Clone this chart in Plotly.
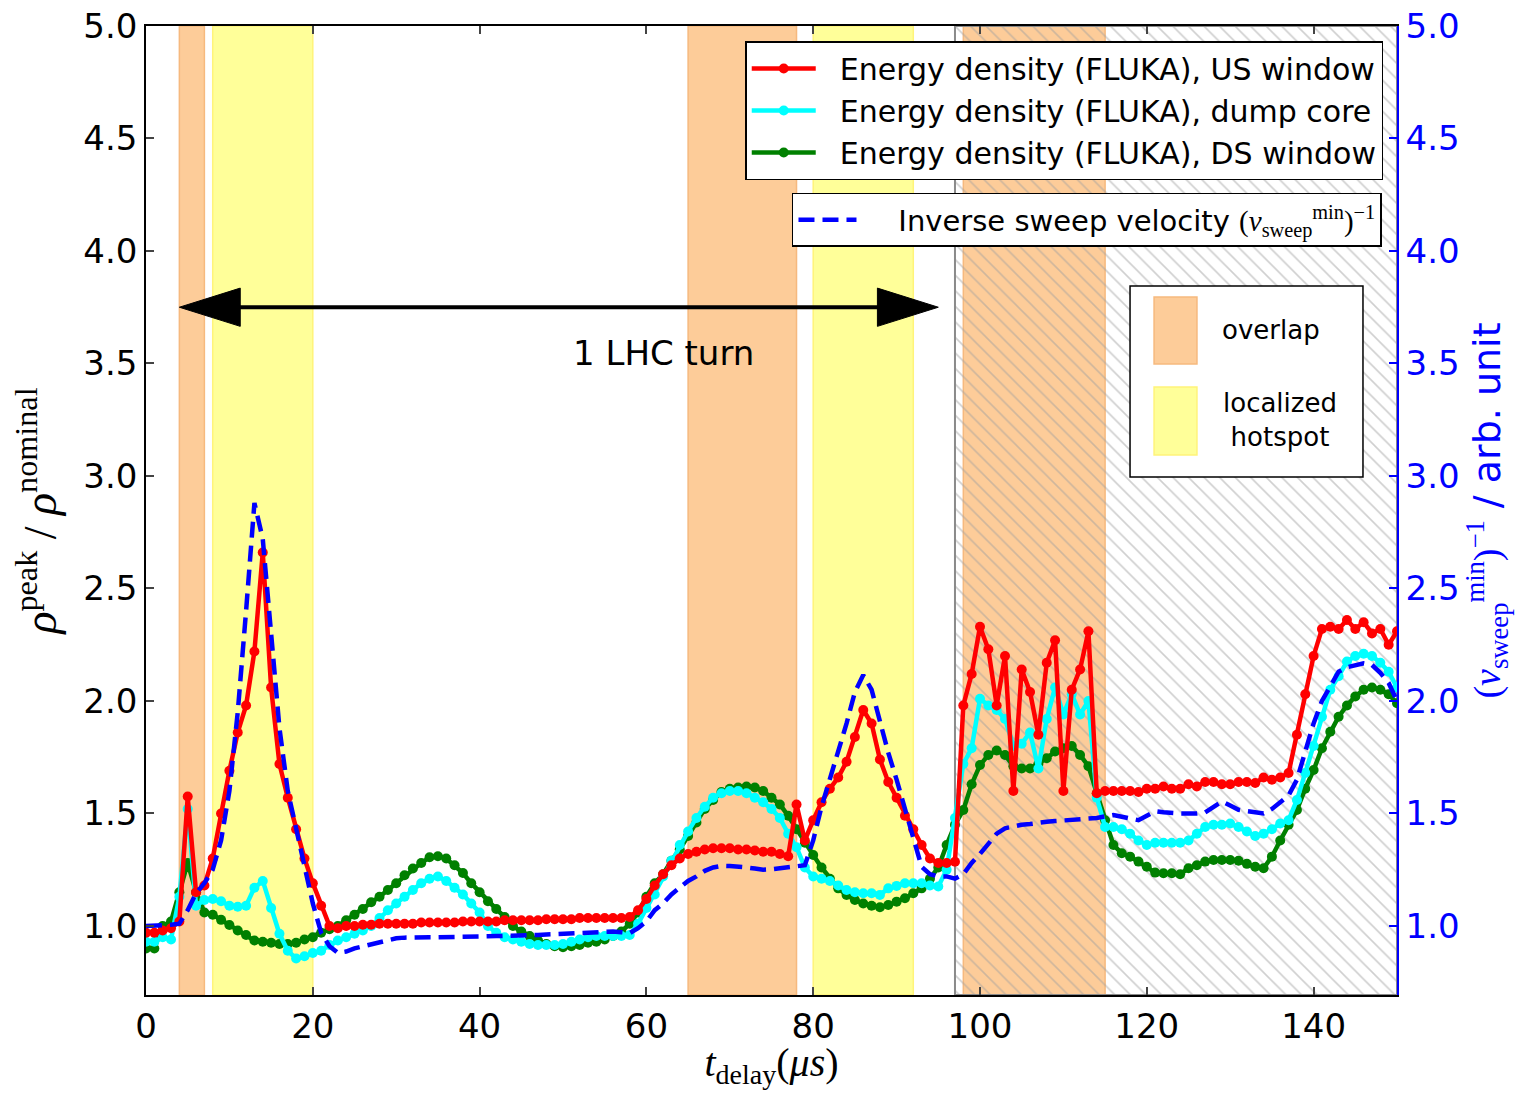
import plotly.graph_objects as go

# ---------------- data ----------------
t = list(range(0, 151))

us_window = [
    0.97, 0.97, 0.98, 0.99, 1.02, 1.575, 1.15, 1.18, 1.30, 1.50,
    1.69, 1.86, 1.98, 2.22, 2.66, 2.06, 1.72, 1.57, 1.43, 1.30,
    1.19, 1.09, 1.00, 0.99, 1.00, 1.00, 1.005, 1.005, 1.01, 1.01,
    1.01, 1.01, 1.01, 1.015, 1.015, 1.015, 1.015, 1.015, 1.02, 1.02,
    1.02, 1.02, 1.02, 1.025, 1.025, 1.025, 1.025, 1.025, 1.03, 1.03,
    1.03, 1.03, 1.035, 1.035, 1.035, 1.035, 1.035, 1.035, 1.04, 1.07,
    1.12, 1.18, 1.23, 1.27, 1.30, 1.32, 1.33, 1.34, 1.345, 1.345,
    1.345, 1.34, 1.34, 1.335, 1.33, 1.33, 1.32, 1.31, 1.54, 1.38,
    1.47, 1.55, 1.61, 1.66, 1.73, 1.84, 1.96, 1.90, 1.74, 1.64,
    1.57, 1.49, 1.43, 1.36, 1.30, 1.28, 1.28, 1.285, 1.98, 2.12,
    2.33, 2.23, 1.98, 2.20, 1.60, 2.14, 2.04, 1.85, 2.17, 2.27,
    1.60, 2.05, 2.14, 2.31, 1.59, 1.60, 1.60, 1.60, 1.60, 1.595,
    1.61, 1.61, 1.62, 1.61, 1.61, 1.63, 1.62, 1.64, 1.64, 1.63,
    1.63, 1.64, 1.64, 1.635, 1.66, 1.65, 1.66, 1.68, 1.85, 2.03,
    2.20, 2.32, 2.33, 2.32, 2.36, 2.32, 2.35, 2.30, 2.32, 2.25,
    2.31,
]

dump_core = [
    0.93, 0.93, 0.95, 0.94, 1.13, 1.52, 1.09, 1.115, 1.12, 1.11,
    1.09, 1.085, 1.09, 1.17, 1.20, 1.08, 0.965, 0.89, 0.855, 0.865,
    0.88, 0.89, 0.915, 0.935, 0.95, 0.965, 0.98, 1.00, 1.035, 1.07,
    1.10, 1.13, 1.16, 1.19, 1.21, 1.22, 1.20, 1.17, 1.14, 1.10,
    1.06, 1.00, 0.97, 0.95, 0.94, 0.93, 0.92, 0.915, 0.915, 0.915,
    0.92, 0.93, 0.94, 0.95, 0.955, 0.955, 0.955, 0.955, 0.96, 1.01,
    1.08, 1.14, 1.22, 1.29, 1.36, 1.42, 1.48, 1.53, 1.57, 1.59,
    1.60, 1.60, 1.59, 1.57, 1.55, 1.52, 1.48, 1.41, 1.35, 1.26,
    1.22, 1.21, 1.20, 1.18, 1.16, 1.15, 1.145, 1.145, 1.138, 1.167,
    1.178, 1.19, 1.19, 1.19, 1.18, 1.175, 1.25, 1.48, 1.72, 1.79,
    2.01, 1.98, 1.96, 1.92, 1.80, 1.81, 1.86, 1.70, 1.92, 2.06,
    1.94, 2.03, 1.94, 2.00, 1.57, 1.44, 1.44, 1.43, 1.41, 1.38,
    1.36, 1.37, 1.37, 1.37, 1.37, 1.38, 1.41, 1.44, 1.45, 1.45,
    1.455, 1.44, 1.42, 1.40, 1.41, 1.43, 1.455, 1.47, 1.56, 1.68,
    1.80, 1.93, 2.05, 2.11, 2.175, 2.20, 2.21, 2.20, 2.17, 2.13,
    2.06,
]

ds_window = [
    0.90, 0.90, 1.00, 1.02, 1.15, 1.28, 1.15, 1.06, 1.05, 1.027,
    1.004, 0.98, 0.96, 0.935, 0.93, 0.925, 0.92, 0.92, 0.925, 0.94,
    0.95, 0.97, 0.985, 1.00, 1.025, 1.05, 1.075, 1.105, 1.13, 1.16,
    1.19, 1.225, 1.255, 1.28, 1.305, 1.31, 1.30, 1.27, 1.235, 1.19,
    1.15, 1.11, 1.075, 1.04, 1.00, 0.975, 0.955, 0.935, 0.92, 0.91,
    0.905, 0.91, 0.915, 0.925, 0.93, 0.94, 0.955, 0.975, 1.01, 1.06,
    1.13, 1.19, 1.23, 1.29, 1.34, 1.40, 1.46, 1.52, 1.56, 1.595,
    1.61, 1.615, 1.62, 1.615, 1.60, 1.57, 1.54, 1.49, 1.43, 1.37,
    1.315, 1.26, 1.21, 1.167, 1.138, 1.115, 1.10, 1.09, 1.083, 1.093,
    1.108, 1.123, 1.145, 1.167, 1.21, 1.26, 1.36, 1.45, 1.515, 1.63,
    1.715, 1.76, 1.78, 1.76, 1.71, 1.70, 1.70, 1.72, 1.745, 1.775,
    1.79, 1.80, 1.76, 1.71, 1.59, 1.47, 1.36, 1.323, 1.308, 1.286,
    1.263, 1.237, 1.234, 1.234, 1.23, 1.256, 1.27, 1.286, 1.293, 1.293,
    1.293, 1.29, 1.276, 1.263, 1.256, 1.308, 1.38, 1.45, 1.515, 1.61,
    1.693, 1.79, 1.863, 1.93, 1.98, 2.02, 2.05, 2.06, 2.05, 2.03,
    1.99,
]

inv_sweep = [
    1.00, 1.00, 1.00, 1.005, 1.01, 1.07, 1.145, 1.19, 1.25, 1.38,
    1.60, 1.95, 2.40, 2.88, 2.72, 2.27, 1.88, 1.60, 1.43, 1.27,
    1.10, 0.97, 0.91, 0.88, 0.886, 0.90, 0.91, 0.92, 0.93, 0.94,
    0.945, 0.948, 0.95, 0.95, 0.95, 0.95, 0.95, 0.952, 0.952, 0.953,
    0.953, 0.954, 0.955, 0.955, 0.956, 0.958, 0.96, 0.96, 0.962, 0.964,
    0.966, 0.968, 0.97, 0.972, 0.975, 0.975, 0.975, 0.972, 0.968, 0.99,
    1.02, 1.07, 1.10, 1.14, 1.17, 1.20, 1.22, 1.245, 1.26, 1.267,
    1.266, 1.264, 1.26, 1.255, 1.25, 1.252, 1.258, 1.262, 1.265, 1.27,
    1.38, 1.53, 1.65, 1.78, 1.90, 2.04, 2.115, 2.05, 1.91, 1.77,
    1.65, 1.52, 1.38, 1.263, 1.23, 1.22, 1.22, 1.21, 1.23, 1.28,
    1.32, 1.367, 1.41, 1.434, 1.443, 1.45, 1.453, 1.46, 1.463, 1.466,
    1.468, 1.47, 1.473, 1.477, 1.48, 1.487, 1.493, 1.485, 1.475, 1.47,
    1.49, 1.51, 1.505, 1.50, 1.50, 1.50, 1.50, 1.505, 1.53, 1.553,
    1.535, 1.516, 1.51, 1.505, 1.50, 1.52, 1.55, 1.58, 1.65, 1.77,
    1.90, 2.00, 2.07, 2.13, 2.15, 2.16, 2.167, 2.16, 2.125, 2.08,
    2.00,
]

overlap_spans = [(4, 7), (65, 78), (98, 115)]
hotspot_spans = [(8, 20), (80, 92)]
hatched_span = (97, 150)
lhc_turn = (4, 95, 3.75)  # arrow start, end, height

x_ticks = [0, 20, 40, 60, 80, 100, 120, 140]
y_ticks = [1.0, 1.5, 2.0, 2.5, 3.0, 3.5, 4.0, 4.5, 5.0]
y_range = [0.693, 5.0]

# ---------------- styles ----------------
ORANGE = "#FDCC99"
ORANGE_EDGE = "#F6B97E"
YELLOW = "#FFFF99"
YELLOW_EDGE = "#FFF47A"
SANS = "DejaVu Sans"
SERIF = "Liberation Serif"
GAP = "\u00a0\u00a0"

fig = go.Figure()

shapes = []
for a, b in overlap_spans:
    shapes.append(dict(type="rect", xref="x", yref="paper", x0=a, x1=b, y0=0, y1=1,
                       fillcolor=ORANGE, line=dict(color=ORANGE_EDGE, width=1.5), layer="below"))
for a, b in hotspot_spans:
    shapes.append(dict(type="rect", xref="x", yref="paper", x0=a, x1=b, y0=0, y1=1,
                       fillcolor=YELLOW, line=dict(color=YELLOW_EDGE, width=1.5), layer="below"))

# hatched region
ha, hb = hatched_span
fig.add_trace(go.Scatter(
    x=[ha, hb, hb, ha, ha], y=[y_range[0], y_range[0], y_range[1], y_range[1], y_range[0]],
    mode="lines", fill="toself", fillcolor="rgba(0,0,0,0)",
    fillpattern=dict(shape="\\", fgcolor="#a0a0a0", bgcolor="rgba(0,0,0,0)", size=11, solidity=0.15),
    line=dict(color="#8a8a8a", width=2), showlegend=False, hoverinfo="skip"))

fig.add_trace(go.Scatter(x=t, y=ds_window, name=GAP + "Energy density (FLUKA), DS window",
                         line=dict(color="#008000", width=4.5), marker=dict(color="#008000", size=10),
                         mode="lines+markers", legend="legend"))
fig.add_trace(go.Scatter(x=t, y=dump_core, name=GAP + "Energy density (FLUKA), dump core",
                         line=dict(color="#00FFFF", width=4.5), marker=dict(color="#00FFFF", size=10),
                         mode="lines+markers", legend="legend"))
fig.add_trace(go.Scatter(x=t, y=us_window, name=GAP + "Energy density (FLUKA), US window",
                         line=dict(color="#FF0000", width=4.5), marker=dict(color="#FF0000", size=10),
                         mode="lines+markers", legend="legend"))
fig.add_trace(go.Scatter(x=t, y=inv_sweep, yaxis="y2",
                         name=GAP + GAP + "Inverse sweep velocity <span style='font-family:Liberation Serif'>(<i>v</i><sub>sweep</sub><sup>min</sup>)<sup>−1</sup></span>",
                         line=dict(color="#0000FF", width=4.5, dash="16px,8px"),
                         mode="lines", legend="legend2"))

# double-headed arrow "1 LHC turn"
xa, xb, ya = lhc_turn
head_len, head_half = 7.3, 0.085
shapes.append(dict(type="line", xref="x", yref="y", x0=xa + head_len * 0.9, x1=xb - head_len * 0.9,
                   y0=ya, y1=ya, line=dict(color="black", width=4)))
shapes.append(dict(type="path", xref="x", yref="y",
                   path=f"M {xa},{ya} L {xa + head_len},{ya + head_half} L {xa + head_len},{ya - head_half} Z",
                   fillcolor="black", line=dict(color="black", width=1)))
shapes.append(dict(type="path", xref="x", yref="y",
                   path=f"M {xb},{ya} L {xb - head_len},{ya + head_half} L {xb - head_len},{ya - head_half} Z",
                   fillcolor="black", line=dict(color="black", width=1)))

# manual patch legend (overlap / localized hotspot)
shapes.append(dict(type="rect", xref="paper", yref="paper", x0=0.7866, x1=0.9728, y0=0.5346, y1=0.7317,
                   fillcolor="white", line=dict(color="black", width=1.5)))
shapes.append(dict(type="rect", xref="paper", yref="paper", x0=0.8058, x1=0.8401, y0=0.6512, y1=0.7203,
                   fillcolor=ORANGE, line=dict(color=ORANGE_EDGE, width=1.5)))
shapes.append(dict(type="rect", xref="paper", yref="paper", x0=0.8058, x1=0.8401, y0=0.5573, y1=0.6275,
                   fillcolor=YELLOW, line=dict(color=YELLOW_EDGE, width=1.5)))

annotations = [
    dict(text="1 LHC turn", x=62, y=3.547, xref="x", yref="y", showarrow=False,
         xanchor="center", yanchor="middle", font=dict(family=SANS, size=34, color="black")),
    dict(text="overlap", x=0.8993, y=0.6863, xref="paper", yref="paper", showarrow=False,
         xanchor="center", yanchor="middle", font=dict(family=SANS, size=26, color="black")),
    dict(text="localized<br>hotspot", x=0.9065, y=0.5934, xref="paper", yref="paper", showarrow=False,
         xanchor="center", yanchor="middle", font=dict(family=SANS, size=26, color="black")),
]

# the page body adds an 8 px offset; the figure is sized to compensate
fig.update_layout(
    width=1520, height=1082,
    margin=dict(l=138, r=131, t=18, b=95, autoexpand=False),
    plot_bgcolor="white", paper_bgcolor="white",
    shapes=shapes, annotations=annotations,
    font=dict(family=SANS, color="black"),
    xaxis=dict(range=[0, 150], tickvals=x_ticks, ticks="inside", ticklen=8, tickwidth=1.5,
               showline=True, linecolor="black", linewidth=1.5, mirror="ticks", automargin=False,
               ticklabeloverflow="allow",
               showgrid=False, zeroline=False, tickfont=dict(size=34, family=SANS),
               title=dict(text="<i>t</i><sub>delay</sub>(<i>μs</i>)",
                          font=dict(family=SERIF, size=40), standoff=9)),
    yaxis=dict(range=y_range, tickvals=y_ticks, tickformat=".1f", ticks="inside", ticklen=8, tickwidth=1.5,
               showline=True, linecolor="black", linewidth=1.5, showgrid=False, zeroline=False,
               automargin=False, ticklabeloverflow="allow", tickfont=dict(size=34, family=SANS),
               title=dict(text="<i>ρ</i><sup>peak</sup> / <i>ρ</i><sup>nominal</sup>",
                          font=dict(family=SERIF, size=46), standoff=14)),
    yaxis2=dict(range=y_range, tickvals=y_ticks, tickformat=".1f", overlaying="y", side="right",
                ticks="inside", ticklen=8, tickwidth=1.5, tickcolor="#0000FF", automargin=False,
                ticklabeloverflow="allow",
                showline=True, linecolor="#0000FF", linewidth=1.5, showgrid=False, zeroline=False,
                tickfont=dict(size=34, family=SANS, color="#0000FF"),
                title=dict(text="<span style='font-family:Liberation Serif'>(<i>v</i><sub>sweep</sub><sup>min</sup>)<sup>−1</sup></span> / arb. unit",
                           font=dict(family=SANS, size=38, color="#0000FF"), standoff=14)),
    legend=dict(x=0.989, y=0.9845, xanchor="right", yanchor="top", traceorder="reversed",
                bgcolor="white", bordercolor="black", borderwidth=1.5,
                font=dict(family=SANS, size=30), itemwidth=64),
    legend2=dict(x=0.988, y=0.8277, xanchor="right", yanchor="top",
                 bgcolor="white", bordercolor="black", borderwidth=1.5,
                 font=dict(family=SANS, size=29), itemwidth=58),
    showlegend=True,
)

fig.write_html("out.html")
